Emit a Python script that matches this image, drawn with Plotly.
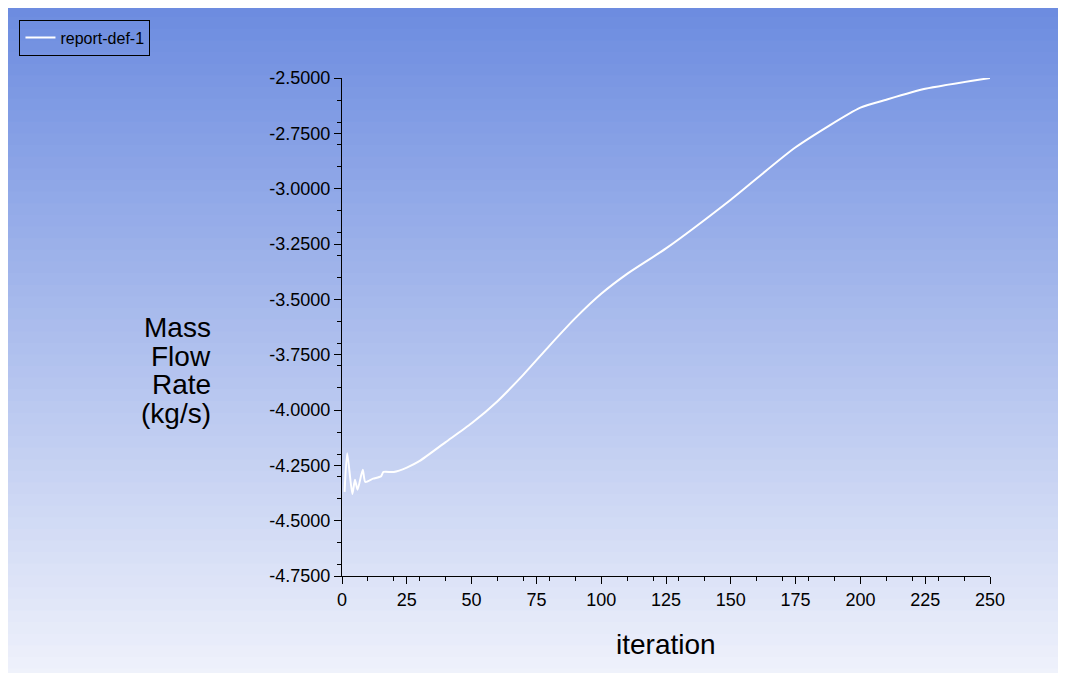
import plotly.graph_objects as go

iters = [1, 2, 4, 5, 6, 8, 9, 12, 15, 16, 20, 25, 30, 40, 50, 60, 70, 80, 90, 100, 110, 125, 150, 175, 200, 210, 225, 250]
mass = [-4.37, -4.195, -4.38, -4.315, -4.36, -4.27, -4.325, -4.31, -4.30, -4.28, -4.28, -4.26, -4.23, -4.145, -4.06,
        -3.96, -3.84, -3.71, -3.585, -3.475, -3.385, -3.27, -3.05, -2.813, -2.634, -2.598, -2.549, -2.50]
yticks = [-4.75, -4.5, -4.25, -4.0, -3.75, -3.5, -3.25, -3.0, -2.75, -2.5]
ytext = ["-4.7500", "-4.5000", "-4.2500", "-4.0000", "-3.7500", "-3.5000", "-3.2500", "-3.0000", "-2.7500", "-2.5000"]
xticks = [0, 25, 50, 75, 100, 125, 150, 175, 200, 225, 250]
ytitle = ["Mass", "Flow", "Rate", "(kg/s)"]

W, H = 1050, 665
L, T, PW, PH = 321, 65, 661, 503

fig = go.Figure(go.Scatter(x=iters, y=mass, mode="lines", name="report-def-1",
                           line=dict(color="white", width=2, shape="spline", smoothing=0.6)))

n = 60
top = (107, 139, 224); bot = (242, 244, 252)
shapes = []
span = (H + 40) / PH
y_top = 1 + (T + 20) / PH
for i in range(n):
    t = i / (n - 1)
    c = tuple(int(top[k] + (bot[k] - top[k]) * t) for k in range(3))
    shapes.append(dict(type="rect", xref="paper", yref="paper", layer="below", line_width=0,
                       x0=-1, x1=2, y0=y_top - (i + 1) * span / n - 0.002, y1=y_top - i * span / n,
                       fillcolor="rgb(%d,%d,%d)" % c))

axis_common = dict(showline=True, linecolor="black", linewidth=1, ticks="outside", tickcolor="black",
                   ticklen=7, showgrid=False, zeroline=False, tickfont=dict(size=18, color="black"),
                   minor=dict(ticks="outside", ticklen=4, tickcolor="black", nticks=6))
fig.update_xaxes(range=[0, 250], tickvals=xticks, **axis_common)
fig.update_yaxes(range=[-4.75, -2.5], tickvals=yticks, ticktext=ytext, **axis_common)

anns = []
for i, s in enumerate(ytitle):
    ypx = 325 + i * 29 - 8
    anns.append(dict(text=s, xref="paper", yref="paper", x=-(L - 189) / PW, y=1 - (ypx - T) / PH,
                     xanchor="right", yanchor="middle", showarrow=False, font=dict(size=28)))
anns.append(dict(text="iteration", xref="paper", yref="paper", x=0.5, y=-(637 - T - PH) / PH,
                 xanchor="center", yanchor="middle", showarrow=False, font=dict(size=28)))

fig.update_layout(
    width=W, height=H, margin=dict(l=L, r=W - L - PW, t=T, b=H - T - PH),
    paper_bgcolor="rgba(0,0,0,0)", plot_bgcolor="rgba(0,0,0,0)",
    font=dict(family="Arial, Liberation Sans", color="black"),
    shapes=shapes, showlegend=True,
    legend=dict(x=-(L + 8) / PW, y=1 + (T - 6) / PH, xanchor="left", yanchor="top", bgcolor="rgba(0,0,0,0)",
                bordercolor="black", borderwidth=1, font=dict(size=16)),
    annotations=anns,
)
fig.write_html("out.html")
